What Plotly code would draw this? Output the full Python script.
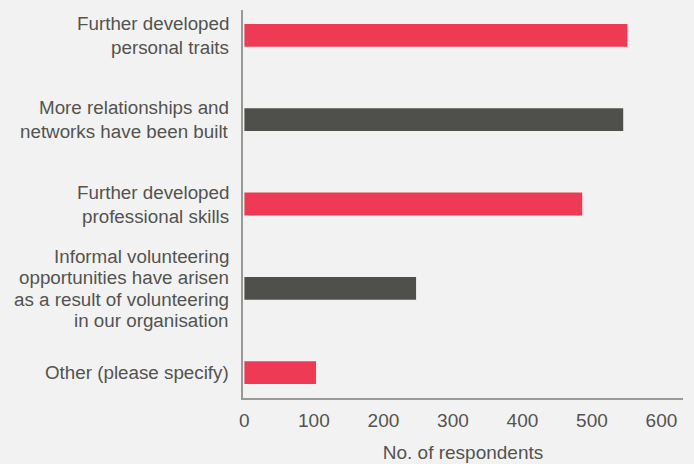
import plotly.graph_objects as go

categories = [
    "Further developed<br>personal traits",
    "More relationships and<br>networks have been built",
    "Further developed<br>professional skills",
    "Informal volunteering<br>opportunities have arisen<br>as a result of volunteering<br>in our organisation",
    "Other (please specify)",
]
values = [551, 545, 486, 247, 103]
colors = ["#ee3a55", "#4f504b", "#ee3a55", "#4f504b", "#ee3a55"]
x_ticks = [0, 100, 200, 300, 400, 500, 600]
x_title = "No. of respondents"

FONT = "Liberation Sans, Arial, sans-serif"
TXT = "#535350"
SIZE = 18.8

fig = go.Figure(go.Bar(
    x=values, y=categories, orientation="h",
    marker=dict(color=colors, line=dict(width=0)),
    width=0.27,
    hoverinfo="skip",
))

# category labels: one annotation per line to control line pitch
for cat in categories:
    lines = cat.split("<br>")
    n = len(lines)
    pitch = 24 if n <= 2 else 21.3
    for j, ln in enumerate(lines):
        fig.add_annotation(
            x=0, xref="paper", y=cat, yref="y",
            text=ln, showarrow=False,
            xanchor="right", yanchor="middle",
            xshift=-12, yshift=((n - 1) / 2 - j) * pitch,
            font=dict(family=FONT, size=SIZE, color=TXT),
        )

fig.update_layout(
    width=694, height=464,
    margin=dict(l=243, r=11, t=10, b=66),
    paper_bgcolor="#f2f2f2", plot_bgcolor="#f2f2f2",
    font=dict(family=FONT, size=19, color=TXT),
    showlegend=False,
    xaxis=dict(
        range=[-2, 631], tickvals=x_ticks, showgrid=False, zeroline=False,
        showline=True, linecolor="#999996", linewidth=2,
        ticks="", ticklabelstandoff=4, automargin=False,
        title=dict(text=x_title, font=dict(size=19, color=TXT), standoff=16),
    ),
    yaxis=dict(
        range=[4.3, -0.3], showgrid=False, zeroline=False,
        showline=True, linecolor="#999996", linewidth=2,
        ticks="", showticklabels=False, automargin=False,
        categoryorder="array", categoryarray=categories,
    ),
)
fig.write_html("out.html", config={"displayModeBar": False},
               post_script="document.body.style.margin='0';")
